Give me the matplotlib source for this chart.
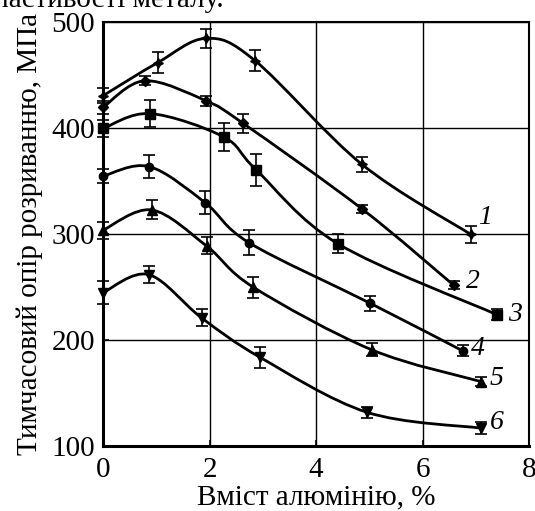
import numpy as np
import matplotlib
matplotlib.use("Agg")
import matplotlib.pyplot as plt
from matplotlib.path import Path
from matplotlib.patches import PathPatch

plt.rcParams['font.family'] = ['Liberation Serif', 'DejaVu Serif']

# ---------------------data---------------------
x1 = [0, 1.02, 1.93, 2.85, 4.86, 6.9]
y1 = [431, 462, 485, 464, 366, 300]
e1 = [7, 10, 9, 10, 7, 8]

x2 = [0, 0.78, 1.93, 2.62, 4.86, 6.58]
y2 = [420, 445, 426, 405, 324, 252]
e2 = [6, 4, 5, 9, 4, 4]

x3 = [0, 0.88, 2.26, 2.87, 4.41, 7.4]
y3 = [400, 414, 392, 361, 291, 224]
e3 = [8, 13, 13, 15, 9, 5]

x4 = [0, 0.86, 1.91, 2.74, 5.01, 6.75]
y4 = [355, 364, 330, 292, 235, 190]
e4 = [7, 11, 11, 12, 7, 5]

x5 = [0, 0.91, 1.94, 2.82, 5.04, 7.09]
y5 = [304, 323, 289, 250, 191, 161]
e5 = [8, 9, 8, 10, 6, 4]

x6 = [0, 0.85, 1.85, 2.94, 4.95, 7.09]
y6 = [245, 262, 221, 184, 132, 117]
e6 = [11, 8, 8, 10, 5, 6]

curve_labels = ['1', '2', '3', '4', '5', '6']
label_x = [7.17, 6.95, 7.73, 7.04, 7.39, 7.39]
label_y = [316, 255, 224, 192, 164, 122]

xticks = [0, 2, 4, 6, 8]
yticks = [100, 200, 300, 400, 500]


def smooth_path(xs, ys):
    # catmull-rom through the points, drawn as cubic bezier segments
    p = np.column_stack([xs, ys]).astype(float)
    p = np.vstack([p[0], p, p[-1]])
    verts = [p[1]]
    codes = [Path.MOVETO]
    for i in range(1, len(p) - 2):
        c1 = p[i] + (p[i + 1] - p[i - 1]) / 6.0
        c2 = p[i + 1] - (p[i + 2] - p[i]) / 6.0
        verts += [c1, c2, p[i + 1]]
        codes += [Path.CURVE4] * 3
    return Path(verts, codes)


fig = plt.figure(figsize=(5.35, 5.11), dpi=100)
ax = fig.add_axes([0.193, 0.127, 0.796, 0.829])

series = [(x1, y1, e1, (4, 1, 0), 7),
          (x2, y2, e2, 'D', 5),
          (x3, y3, e3, 's', 7),
          (x4, y4, e4, 'o', 6),
          (x5, y5, e5, '^', 6.5),
          (x6, y6, e6, 'v', 6.5)]

for xs, ys, es, mk, ms in series:
    ax.add_patch(PathPatch(smooth_path(xs, ys), fill=False, lw=2, ec='black',
                           zorder=3))
    ax.errorbar(xs, ys, yerr=es, fmt='none', ecolor='black', elinewidth=1.2,
                capsize=4, capthick=1.2, zorder=4, clip_on=False)
    ax.plot(xs, ys, ls='none', marker=mk, ms=ms, color='black', zorder=5,
            clip_on=False)

for t, lx, ly in zip(curve_labels, label_x, label_y):
    ax.text(lx, ly, t, fontsize=20, style='italic', ha='center', va='center')

ax.set_xlim(0, 8)
ax.set_ylim(100, 500)
ax.set_xticks(xticks)
ax.set_yticks(yticks)
ax.grid(True, color='black', lw=1)
ax.set_axisbelow(True)
ax.tick_params(labelsize=21, length=4, width=1.2, direction='in', color='black')
ax.tick_params(axis='x', pad=8)
ax.tick_params(axis='y', pad=6)
for s in ['left', 'bottom']:
    ax.spines[s].set_linewidth(2.2)
for s in ['top', 'right']:
    ax.spines[s].set_linewidth(1.5)

ax.set_xlabel('Вміст алюмінію, %', fontsize=21, labelpad=1)
ax.set_ylabel('Тимчасовий опір розриванню, МПа', fontsize=21, labelpad=6)

fig.text(-0.035, 1 - 7 / 511, 'властивості металу.', fontsize=21,
         ha='left', va='baseline')

fig.savefig('out.png', dpi=100)
